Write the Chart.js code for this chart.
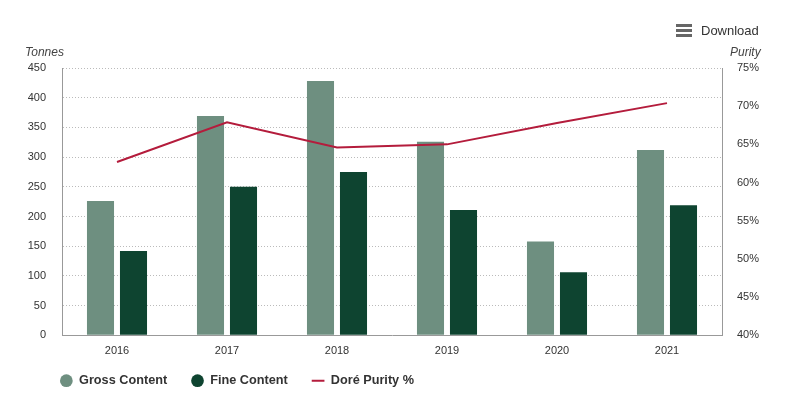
<!DOCTYPE html>
<html>
<head>
<meta charset="utf-8">
<script src="https://cdn.jsdelivr.net/npm/chart.js@4"></script>
<style>
  body { margin: 0; background: #fff; font-family: "Liberation Sans", Arial, sans-serif; }
  #wrap { position: relative; width: 786px; height: 411px; }
  .axt { position: absolute; font-style: italic; font-size: 12px; color: #444; }
  #dl { position: absolute; left: 676px; top: 22px; font-size: 13px; color: #333; display: flex; align-items: center; }
  #dl i { display: inline-block; width: 16px; margin-right: 9px; }
  #dl i b { display: block; height: 3px; background: #666; margin: 2px 0; }
</style>
</head>
<body>
<div id="wrap">
  <canvas id="grafico" width="786" height="411"></canvas>
  <div class="axt" style="left:25px;top:45px">Tonnes</div>
  <div class="axt" style="left:730px;top:45px">Purity</div>
  <div id="dl"><i><b></b><b></b><b></b></i>Download</div>
</div>
<script>
// valores
const anos = ['2016', '2017', '2018', '2019', '2020', '2021'];
const brutoTon = [226, 369, 428, 326, 158, 312];
const finoTon = [142, 250, 275, 211, 106, 219];
const purezaPct = [62.7, 67.9, 64.6, 65.0, 67.8, 70.4];

const corBruto = '#6e8f80';
const corFino = '#0e4430';
const corLinha = '#b41c3c';

// desloca a legenda para a direita e para cima, sem mexer nos eixos
const ajusteLegenda = {
  id: 'ajusteLegenda',
  afterLayout(chart) {
    chart.legend.left = 36;
    chart.legend.top -= 11;
  }
};

const config = {
  data: {
    labels: anos,
    datasets: [
      {
        type: 'bar',
        label: 'Gross Content',
        data: brutoTon,
        backgroundColor: corBruto,
        categoryPercentage: 0.6,
        barPercentage: 0.82,
        order: 1
      },
      {
        type: 'bar',
        label: 'Fine Content',
        data: finoTon,
        backgroundColor: corFino,
        categoryPercentage: 0.6,
        barPercentage: 0.82,
        order: 1
      },
      {
        type: 'line',
        label: 'Doré Purity %',
        data: purezaPct,
        yAxisID: 'y1',
        borderColor: corLinha,
        backgroundColor: corLinha,
        borderWidth: 2,
        pointRadius: 0,
        pointStyle: 'line',
        tension: 0,
        order: 0
      }
    ]
  },
  plugins: [ajusteLegenda],
  options: {
    responsive: false,
    animation: false,
    layout: { padding: { left: 0, right: 0, top: 68, bottom: 3 } },
    plugins: {
      tooltip: { enabled: false },
      legend: {
        position: 'bottom',
        align: 'start',
        labels: {
          usePointStyle: true,
          boxHeight: 9,
          padding: 24,
          color: '#333',
          font: { family: 'Liberation Sans', size: 12.7, weight: 'bold' },
          sort: (a, b) => a.datasetIndex - b.datasetIndex
        }
      }
    },
    scales: {
      x: {
        grid: { display: false, drawTicks: false },
        border: { display: true, color: '#999' },
        ticks: { color: '#333', font: { family: 'Liberation Sans', size: 11 }, padding: 9 },
        afterFit: s => { s.height = 26; }
      },
      y: {
        position: 'left',
        min: 0,
        max: 450,
        ticks: { stepSize: 50, color: '#333', font: { family: 'Liberation Sans', size: 11 }, padding: 16 },
        grid: { color: '#bbb', drawTicks: false },
        border: { display: true, color: '#999', dash: [1, 2] },
        afterFit: s => { s.width = 62; }
      },
      y1: {
        position: 'right',
        min: 40,
        max: 75,
        ticks: { stepSize: 5, color: '#333', font: { family: 'Liberation Sans', size: 11 }, padding: 15, callback: v => v + '%' },
        grid: { display: false, drawTicks: false },
        border: { display: true, color: '#999' },
        afterFit: s => { s.width = 64; }
      }
    }
  }
};

new Chart(document.getElementById('grafico'), config);
</script>
</body>
</html>
